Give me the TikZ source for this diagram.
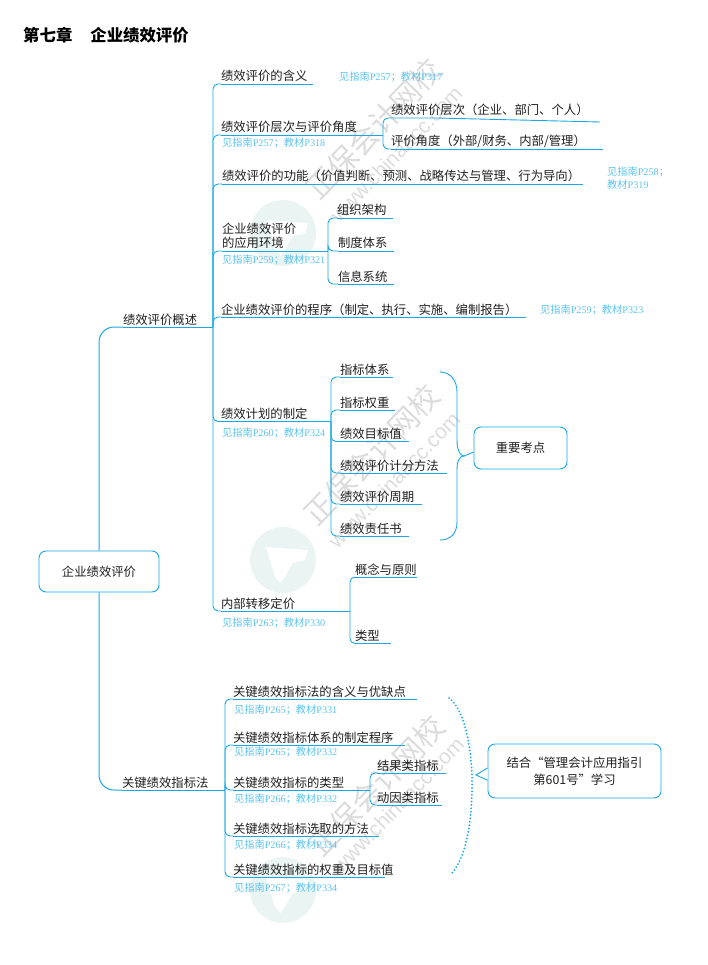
\documentclass[tikz,border=0pt]{standalone}
\usepackage{fontspec}
\setmainfont{Noto Sans CJK SC}
\newfontfamily\pagefont{Liberation Serif}
\newfontfamily\wwwfont{Liberation Sans}
\newcommand{\pg}[1]{{\pagefont #1}}
\usetikzlibrary{positioning}
\definecolor{linecol}{HTML}{1AA7E4}
\definecolor{refcol}{HTML}{5CC3F0}
\definecolor{stampcol}{HTML}{DCDCDC}
\definecolor{logocol}{HTML}{EAF4F3}
\tikzset{
  topic/.style={anchor=south west, inner sep=0pt, outer sep=0pt, align=left,
    text=black!88, font=\fontsize{12.35}{14}\selectfont,
    execute at end node={\rule[-3pt]{0pt}{3pt}}},
  refnote/.style={anchor=west, inner sep=0pt, align=left, text=refcol,
    font=\fontsize{10.2}{13}\selectfont},
  bar/.style={draw=linecol, line width=0.9pt},
  branch/.style={draw=linecol, line width=0.9pt, rounded corners=5pt},
  bigbranch/.style={draw=linecol, line width=1pt, rounded corners=15pt},
  box/.style={draw=linecol, line width=0.9pt, rounded corners=7pt, fill=white,
    align=center, text=black!88, font=\fontsize{12.35}{17}\selectfont},
  stamp/.style={rotate=46, text=stampcol},
}

\begin{document}
\begin{tikzpicture}[x=1pt, y=-1pt]
  \useasboundingbox (0,0) rectangle (708,965);

  % watermark
  \foreach \cy in {233, 560, 890}
  {
    \fill[logocol] (283,\cy) circle (33);
    \fill[white] (266,\cy-13) -- (308,\cy-10) -- (305,\cy) -- (293,\cy+3)
      -- (281,\cy+23) -- (275,\cy+17) -- cycle;
  }
  \foreach \n/\cx/\cy/\wx/\wy in {a/374/129/396/154, b/372/455/394/480, c/377/786/398/805}
  {
    \node[stamp, font=\fontsize{30}{31}\selectfont] (zb\n) at (\cx,\cy) {正保会计网校};
    \node[stamp, font=\wwwfont\fontsize{21}{22}\selectfont] (www\n) at (\wx,\wy) {www.chinaacc.com};
  }

  \node[anchor=west, inner sep=0pt, font=\bfseries\fontsize{16.4}{18}\selectfont] (title) at (23,35)
    {第七章\hspace{18pt}企业绩效评价};

  % root
  \node[box, minimum width=120pt, minimum height=41pt] (root) at (99,571.5) {企业绩效评价};
  \node[topic, text width=90pt] (gaishu) at (123,327) {绩效评价概述};
  \node[topic, text width=103pt] (guanjian) at (122,790) {关键绩效指标法};

  % first part
  \node[topic, text width=92pt] (hanyi) at (221,84) {绩效评价的含义};
  \node[topic, text width=162pt] (jiaodu) at (221,135) {绩效评价层次与评价角度};
  \node[topic, text width=361pt] (gongneng) at (222,184) {绩效评价的功能（价值判断、预测、战略传达与管理、行为导向）};
  \node[topic, text width=106pt] (huanjing) at (222,251) {企业绩效评价\\的应用环境};
  \node[topic, text width=305pt] (chengxu) at (221,317) {企业绩效评价的程序（制定、执行、实施、编制报告）};
  \node[topic, text width=110pt] (jihua) at (221,421.5) {绩效计划的制定};
  \node[topic, text width=129pt] (zhuanyi) at (221,611) {内部转移定价};

  \node[topic, text width=209pt] (cengci) at (391,118) {绩效评价层次（企业、部门、个人）};
  \node[topic, text width=212pt] (pingjia) at (391,149) {评价角度（外部/财务、内部/管理）};

  \node[topic, text width=56pt] (zuzhi) at (337,218) {组织架构};
  \node[topic, text width=56pt] (zhidu) at (338,251) {制度体系};
  \node[topic, text width=56pt] (xinxi) at (338,284) {信息系统};

  \node[topic, text width=53pt] (tixi) at (340,377) {指标体系};
  \node[topic, text width=55pt] (quanzhong) at (340,410) {指标权重};
  \node[topic, text width=69pt] (mubiao) at (340,441.5) {绩效目标值};
  \node[topic, text width=107pt] (jifen) at (340,473) {绩效评价计分方法};
  \node[topic, text width=82pt] (zhouqi) at (340,504) {绩效评价周期};
  \node[topic, text width=69pt] (zeren) at (340,536) {绩效责任书};

  \node[topic, text width=62pt] (gainian) at (355,577) {概念与原则};
  \node[topic, text width=36pt] (leixing) at (355,643.5) {类型};

  % second part
  \node[topic, text width=184pt] (youque) at (233,699) {关键绩效指标法的含义与优缺点};
  \node[topic, text width=172pt] (zhiding) at (233,745) {关键绩效指标体系的制定程序};
  \node[topic, text width=137pt] (zhibiao) at (233,790) {关键绩效指标的类型};
  \node[topic, text width=146pt] (xuanqu) at (233,836) {关键绩效指标选取的方法};
  \node[topic, text width=162pt] (mubiaozhi) at (233,877) {关键绩效指标的权重及目标值};

  \node[topic, text width=69pt] (jieguo) at (377,773) {结果类指标};
  \node[topic, text width=65pt] (dongyin) at (377,805) {动因类指标};

  % underlines
  \foreach \n in {gaishu, guanjian, hanyi, jiaodu, gongneng, huanjing, chengxu, jihua, zhuanyi,
    pingjia, zuzhi, zhidu, xinxi, tixi, quanzhong, mubiao, jifen, zhouqi, zeren, gainian, leixing,
    youque, zhiding, zhibiao, xuanqu, jieguo, dongyin}
    \draw[bar] (\n.south west) -- (\n.south east);
  \draw[bar] (cengci.south west) -- ++(46,0) -- ++(163,4);
  \draw[bar] (mubiaozhi.south west) -- ++(152,0);

  % connectors
  \draw[bigbranch] (root.north) |- (gaishu.south west);
  \draw[bigbranch] (root.south) |- (guanjian.south west);
  \foreach \n in {hanyi, jiaodu, gongneng, huanjing, chengxu, jihua, zhuanyi}
    \draw[branch] (gaishu.south east) |- (\n.south west);
  \foreach \n in {cengci, pingjia}
    \draw[branch] (jiaodu.south east) |- (\n.south west);
  \foreach \n in {zuzhi, zhidu, xinxi}
    \draw[branch] (huanjing.south east) |- (\n.south west);
  \foreach \n in {tixi, quanzhong, mubiao, jifen, zhouqi, zeren}
    \draw[branch] (jihua.south east) |- (\n.south west);
  \foreach \n in {gainian, leixing}
    \draw[branch] (zhuanyi.south east) |- (\n.south west);
  \foreach \n in {youque, zhiding, zhibiao, xuanqu, mubiaozhi}
    \draw[branch] (guanjian.south east) |- (\n.south west);
  \foreach \n in {jieguo, dongyin}
    \draw[branch] (zhibiao.south east) |- (\n.south west);

  % page references
  \node[refnote] (rhanyi) at (339,77) {见指南\pg{P257}；教材\pg{P317}};
  \node[refnote] (rjiaodu) at (222,143) {见指南\pg{P257}；教材\pg{P318}};
  \node[refnote] (rgongneng) at (607,178.5) {见指南\pg{P258}；\\教材\pg{P319}};
  \node[refnote] (rhuanjing) at (222,260) {见指南\pg{P259}；教材\pg{P321}};
  \node[refnote] (rchengxu) at (540,310) {见指南\pg{P259}；教材\pg{P323}};
  \node[refnote] (rjihua) at (222,433) {见指南\pg{P260}；教材\pg{P324}};
  \node[refnote] (rzhuanyi) at (222,623) {见指南\pg{P263}；教材\pg{P330}};
  \node[refnote] (ryouque) at (234,710) {见指南\pg{P265}；教材\pg{P331}};
  \node[refnote] (rzhiding) at (234,752) {见指南\pg{P265}；教材\pg{P332}};
  \node[refnote] (rzhibiao) at (234,799) {见指南\pg{P266}；教材\pg{P332}};
  \node[refnote] (rxuanqu) at (234,845) {见指南\pg{P266}；教材\pg{P334}};
  \node[refnote] (rmubiaozhi) at (234,888) {见指南\pg{P267}；教材\pg{P334}};

  % brace and key point
  \node[box, minimum width=93pt, minimum height=42pt] (zhongdian) at (520.5,448) {重要考点};
  \coordinate (bratop) at (440,372);
  \coordinate (brabot) at (440,540);
  \coordinate (bratip) at (464,456);
  \draw[bar] (bratop) .. controls (450,372) and (457,380) .. (457,392) -- (457,440)
    .. controls (457,450) and (460,456) .. (bratip)
    .. controls (460,456) and (457,460) .. (457,470) -- (457,522)
    .. controls (457,534) and (450,540) .. (brabot);
  \draw[bar] (bratip) -- (zhongdian.185);

  % dotted brace and callout
  \node[box, minimum width=173pt, minimum height=54pt] (jiehe) at (574.5,771)
    {结合“管理会计应用指引\\第601号”学习};
  \coordinate (dottop) at (449,698);
  \coordinate (dotmid) at (472,775);
  \coordinate (dotbot) at (450,875);
  \draw[linecol, line width=2pt, dash pattern=on 0pt off 3.4pt, line cap=round] (dottop)
    .. controls (462,708) and (470,735) .. (dotmid)
    .. controls (473,820) and (466,860) .. (dotbot);
  \coordinate (calltip) at (476,775);
  \fill[white] (jiehe.178) -- (calltip) -- (jiehe.186) -- cycle;
  \draw[bar] (jiehe.178) -- (calltip) -- (jiehe.186);
\end{tikzpicture}
\end{document}
